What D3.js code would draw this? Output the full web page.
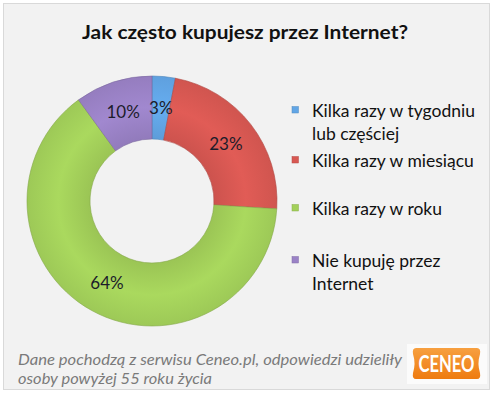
<!DOCTYPE html>
<html><head><meta charset="utf-8">
<script src="https://cdn.jsdelivr.net/npm/d3@7"></script>
<style>
html,body{margin:0;padding:0;background:#fff;}
svg{display:block;}
text{font-family:Lato,"Open Sans",sans-serif;}
</style></head>
<body>
<script>
const title = "Jak często kupujesz przez Internet?";
const categories = ["Kilka razy w tygodniu lub częściej","Kilka razy w miesiącu","Kilka razy w roku","Nie kupuję przez Internet"];
const legendLines = [["Kilka razy w tygodniu","lub częściej"],["Kilka razy w miesiącu"],["Kilka razy w roku"],["Nie kupuję przez","Internet"]];
const values = [3, 23, 64, 10];
const colors = ["#62a6e6","#d85852","#a3d05a","#9a82c6"];
const footerLines = ["Dane pochodzą z serwisu  Ceneo.pl, odpowiedzi  udzieliły","osoby powyżej 55 roku życia"];
const logoText = "CENEO";

const W = 494, H = 394;
const svg = d3.select("body").append("svg").attr("width", W).attr("height", H);

// chart area
svg.append("rect").attr("x",3.5).attr("y",3.5).attr("width",486).attr("height",386)
  .attr("fill","#f2f2f2").attr("stroke","#d9d9d9").attr("stroke-width",1);

// title
svg.append("text").attr("x",245).attr("y",39).attr("text-anchor","middle")
  .attr("font-size",19.5).attr("font-weight","bold").attr("fill","#111")
  .attr("textLength",326).attr("lengthAdjust","spacingAndGlyphs").text(title);

// donut
const cx = 152, cy = 201;
const pie = d3.pie().sort(null).value(d=>d);
const arcs = pie(values);
const arc = d3.arc().innerRadius(62).outerRadius(125);
const labelArc = d3.arc().innerRadius(93.5).outerRadius(93.5);
const defs = svg.append("defs");
colors.forEach((c,i)=>{
  const g = defs.append("radialGradient").attr("id","g"+i)
    .attr("gradientUnits","userSpaceOnUse").attr("cx",0).attr("cy",0).attr("r",125);
  g.append("stop").attr("offset","50%").attr("stop-color",d3.color(c).darker(0.15));
  g.append("stop").attr("offset","75%").attr("stop-color",d3.color(c).brighter(0.12));
  g.append("stop").attr("offset","100%").attr("stop-color",d3.color(c).darker(0.1));
});
const gd = svg.append("g").attr("transform",`translate(${cx},${cy})`);
gd.selectAll("path").data(arcs).join("path")
  .attr("d",arc).attr("fill",(d,i)=>`url(#g${i})`)
  .attr("stroke",(d,i)=>d3.color(colors[i]).darker(0.6)).attr("stroke-width",0.6);
gd.selectAll("text").data(arcs).join("text")
  .attr("transform",d=>`translate(${labelArc.centroid(d)})`)
  .attr("text-anchor","middle").attr("dy","0.36em")
  .attr("font-size",17).attr("fill","#1c1c2a")
  .text(d=>d.data+"%");

// legend
const legendRows = [117,167,215,267];
const lg = svg.append("g");
legendLines.forEach((lines,i)=>{
  const y = legendRows[i];
  lg.append("rect").attr("x",292).attr("y",y-10.5).attr("width",6.5).attr("height",6.5)
    .attr("fill",colors[i]).attr("stroke",d3.color(colors[i]).darker(0.5)).attr("stroke-width",0.5);
  lines.forEach((t,j)=>{
    lg.append("text").attr("x",312).attr("y",y+j*22.5).attr("font-size",17.5).attr("fill","#111").text(t);
  });
});

// footer
footerLines.forEach((t,i)=>{
  svg.append("text").attr("x",18).attr("y",365+i*18.5).attr("font-size",15.5)
    .attr("font-style","italic").attr("fill","#7a7a7a")
    .attr("textLength", i===0?384:194).attr("lengthAdjust","spacingAndGlyphs").text(t);
});

// logo
svg.append("rect").attr("x",407).attr("y",344).attr("width",80).attr("height",40).attr("fill","#fbfbfb");
const lgrad = defs.append("linearGradient").attr("id","og").attr("x1",0).attr("y1",0).attr("x2",0).attr("y2",1);
lgrad.append("stop").attr("offset","0%").attr("stop-color","#f7a040");
lgrad.append("stop").attr("offset","100%").attr("stop-color","#ee7b10");
const lp = d3.path();
const lx0=412, lx1=481, ly0=348, ly1=379;
lp.moveTo(lx0+4,ly0); lp.lineTo(lx1-4,ly0);
lp.quadraticCurveTo(lx1,ly0,lx1-1,ly0+6);
lp.quadraticCurveTo(lx1-4,(ly0+ly1)/2,lx1-1,ly1-6);
lp.quadraticCurveTo(lx1,ly1,lx1-4,ly1);
lp.lineTo(lx0+4,ly1);
lp.quadraticCurveTo(lx0,ly1,lx0+1,ly1-6);
lp.quadraticCurveTo(lx0+4,(ly0+ly1)/2,lx0+1,ly0+6);
lp.quadraticCurveTo(lx0,ly0,lx0+4,ly0);
lp.closePath();
svg.append("path").attr("d",lp.toString()).attr("fill","url(#og)");
svg.append("text").attr("x",(lx0+lx1)/2).attr("y",372).attr("text-anchor","middle")
  .attr("font-size",22).attr("font-weight","bold").attr("fill","#fff")
  .attr("textLength",56).attr("lengthAdjust","spacingAndGlyphs").text(logoText);
</script>
</body></html>
